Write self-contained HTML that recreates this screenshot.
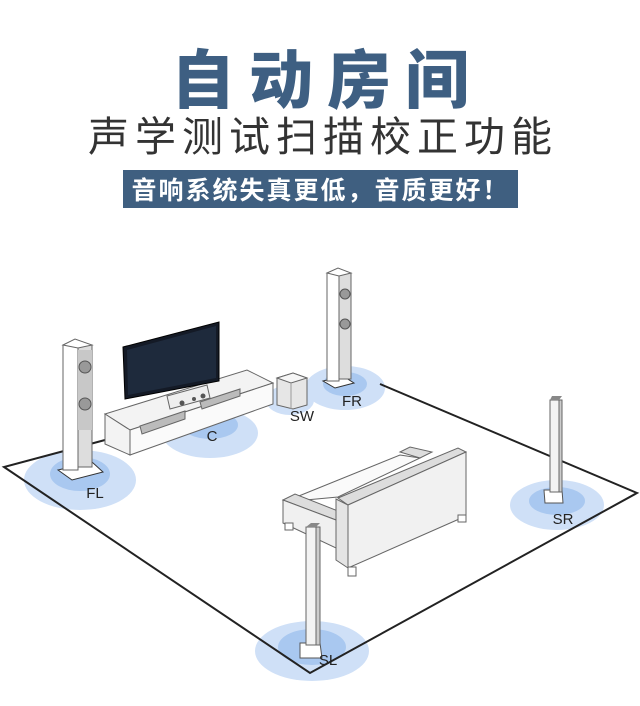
<!DOCTYPE html>
<html><head><meta charset="utf-8"><style>
body{margin:0;width:640px;height:706px;background:#fff;overflow:hidden;position:relative;font-family:"Liberation Sans","Noto Sans CJK SC",sans-serif}
.t1{position:absolute;left:0;width:640px;top:38px;text-align:center;font-size:64px;font-weight:900;color:#3e5f82;letter-spacing:14px;text-indent:14px;line-height:76px;font-family:"Noto Sans CJK SC",sans-serif}
.t2{position:absolute;left:0;width:640px;top:108px;text-align:center;font-size:41px;color:#333;letter-spacing:6px;text-indent:6px;line-height:50px;font-family:"Noto Sans CJK SC",sans-serif}
.b{position:absolute;left:123px;top:170px;width:395px;height:38px;background:#3f5f80;color:#fff;font-size:25px;font-weight:bold;text-align:center;line-height:38px;letter-spacing:2px;font-family:"Noto Sans CJK SC",sans-serif}
svg{position:absolute;left:0;top:0}
</style></head><body>
<div class="t1">自动房间</div>
<div class="t2">声学测试扫描校正功能</div>
<div class="b">音响系统失真更低，音质更好！</div>
<svg width="640" height="706" viewBox="0 0 640 706">
<g fill="#cfe0f7"><ellipse cx="80" cy="480" rx="56" ry="30"/><ellipse cx="210" cy="433" rx="48" ry="25"/><ellipse cx="290" cy="400" rx="24" ry="15"/><ellipse cx="345" cy="388" rx="40" ry="22"/><ellipse cx="557" cy="505" rx="47" ry="25"/><ellipse cx="312" cy="651" rx="57" ry="30"/></g>
<g fill="#a9c8f0"><ellipse cx="80" cy="474" rx="30" ry="17"/><ellipse cx="210" cy="425" rx="28" ry="14"/><ellipse cx="345" cy="384" rx="22" ry="12"/><ellipse cx="557" cy="501" rx="28" ry="14"/><ellipse cx="312" cy="647" rx="34" ry="18"/></g>
<g fill="none" stroke="#222" stroke-width="2"><polyline points="105,440 4,467 310,673 637,493 380,384"/></g>
<g stroke="#666" stroke-width="1" fill="#f3f3f3">
<polygon points="105,414 247,370 273,383 130,430"/>
<polygon points="105,414 130,430 130,455 105,444"/>
<polygon points="130,430 273,383 273,404 130,455" fill="#fafafa"/>
<polygon points="140,426 185,411 185,419 142,434" fill="#bbb"/>
<polygon points="200,402 240,389 240,396 202,409" fill="#bbb"/>
</g>
<polygon points="123,347 219,322 219,381 125,399" fill="#141a26" stroke="#000"/>
<polygon points="127,350 216,326 216,378 128,395" fill="#1e2a3c"/>
<polygon points="167,396 207,385 210,398 170,409" fill="#eee" stroke="#666"/>
<circle cx="182" cy="403" r="2.5" fill="#555"/><circle cx="194" cy="399" r="2" fill="#555"/><circle cx="203" cy="396" r="2.5" fill="#555"/>
<polygon points="277,378 293,373 307,378 307,405 293,409 277,405" fill="#e6e6e6" stroke="#666"/>
<polygon points="277,378 293,373 307,378 291,383" fill="#f6f6f6" stroke="#666"/>
<line x1="291" y1="383" x2="291" y2="409" stroke="#999"/>
<polygon points="58,470 92,462 103,472 72,480" fill="#fff" stroke="#333"/>
<rect x="63" y="345" width="15" height="125" fill="#fff" stroke="#666"/>
<rect x="78" y="345" width="14" height="122" fill="#ddd" stroke="#666"/>
<polygon points="63,345 75,339 92,345 78,348" fill="#fff" stroke="#666"/>
<rect x="78" y="350" width="14" height="80" fill="#c8c8c8"/>
<circle cx="85" cy="367" r="6" fill="#999" stroke="#555"/><circle cx="85" cy="404" r="6" fill="#999" stroke="#555"/>
<polygon points="323,381 343,376 354,383 335,388" fill="#fff" stroke="#333"/>
<rect x="327" y="273" width="12" height="108" fill="#fff" stroke="#666"/>
<rect x="339" y="273" width="12" height="106" fill="#ddd" stroke="#666"/>
<polygon points="327,273 338,268 351,273 339,276" fill="#fff" stroke="#666"/>
<circle cx="345" cy="294" r="5" fill="#999" stroke="#555"/><circle cx="345" cy="324" r="5" fill="#999" stroke="#555"/>
<g stroke="#666" stroke-width="1" fill="#efefef">
<polygon points="400,452 410,447 432,452 420,458" fill="#ddd"/>
<polygon points="284,502 400,455 420,458 338,497" fill="#fafafa"/>
<polygon points="283,500 295,494 338,511 336,520" fill="#ddd"/>
<polygon points="283,500 336,520 336,548 283,523" fill="#f0f0f0"/>
<polygon points="338,498 458,448 466,452 348,505" fill="#ddd"/>
<polygon points="348,505 466,452 466,516 348,568" fill="#f1f1f1"/>
<polygon points="336,499 348,505 348,568 336,560" fill="#e4e4e4"/>
<rect x="285" y="523" width="8" height="7" fill="#fff"/>
<rect x="348" y="567" width="8" height="9" fill="#fff"/>
<rect x="458" y="515" width="8" height="7" fill="#fff"/>
</g>
<polygon points="300,643 320,643 322,658 300,658" fill="#fff" stroke="#555"/>
<rect x="306" y="527" width="10" height="118" fill="#f3f3f3" stroke="#666"/>
<rect x="316" y="527" width="4" height="118" fill="#ccc" stroke="#666"/>
<polygon points="306,527 311,523 320,523 316,527" fill="#888"/>
<polygon points="544,490 562,490 563,503 545,503" fill="#fff" stroke="#555"/>
<rect x="550" y="400" width="9" height="92" fill="#f3f3f3" stroke="#666"/>
<rect x="559" y="400" width="3" height="92" fill="#ccc" stroke="#666"/>
<polygon points="550,400 552,396 562,396 559,400" fill="#888"/>
<g font-family="Liberation Sans, sans-serif" font-size="15" fill="#222" text-anchor="middle">
<text x="95" y="498">FL</text><text x="212" y="441">C</text><text x="302" y="421">SW</text><text x="352" y="406">FR</text><text x="563" y="524">SR</text><text x="328" y="665">SL</text>
</g>
</svg>
</body></html>
